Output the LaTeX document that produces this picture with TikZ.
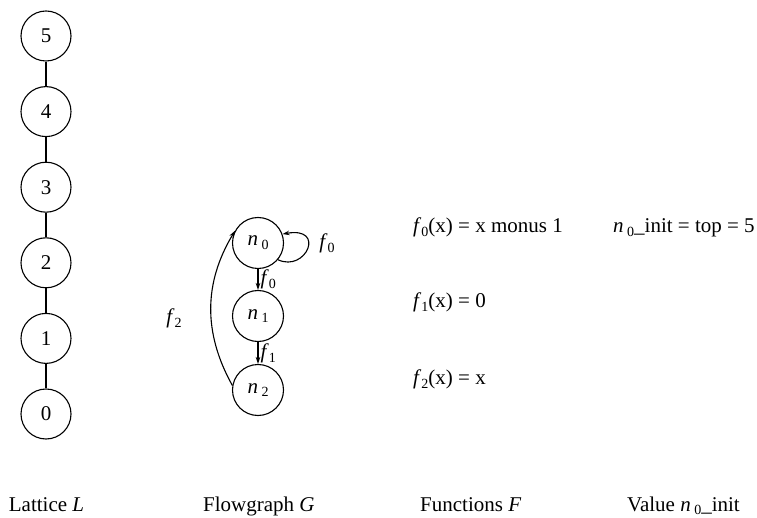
\documentclass[tikz,border=0pt]{standalone}
\usepackage{fontspec}
\setmainfont{Liberation Serif}
\usetikzlibrary{arrows.meta}
\newcommand\sbs[1]{\raisebox{-0.4ex}{\fontsize{14}{14}\selectfont #1}}
\newcommand\fx[1]{\textit{f}\sbs{#1}}
\newcommand\nx[1]{\textit{n}\,\sbs{#1}}
\begin{document}
\begin{tikzpicture}[x=1pt,y=1pt,
  every node/.style={font=\fontsize{21}{25}\selectfont},
  latnode/.style={draw,circle,line width=1.1pt,minimum size=50pt,inner sep=0pt},
  flownode/.style={draw,circle,line width=1.1pt,minimum size=51pt,inner sep=0pt},
  latedge/.style={line width=1.1pt},
  arr/.style={line width=1.1pt,-{Stealth[length=7pt,width=4.5pt]}},
  lbl/.style={inner sep=1pt},
  txt/.style={anchor=base west,inner sep=0pt}]
\useasboundingbox (0,0) rectangle (757,517);
% lattice
\node[latnode] (l5) at (46,481) {5};
\node[latnode] (l4) at (46,405.4) {4};
\node[latnode] (l3) at (46,329.8) {3};
\node[latnode] (l2) at (46,254.2) {2};
\node[latnode] (l1) at (46,178.6) {1};
\node[latnode] (l0) at (46,103) {0};
\draw[latedge] (l5) -- (l4);
\draw[latedge] (l4) -- (l3);
\draw[latedge] (l3) -- (l2);
\draw[latedge] (l2) -- (l1);
\draw[latedge] (l1) -- (l0);
% flowgraph
\node[flownode] (n0) at (258,274) {\nx{0}};
\node[flownode] (n1) at (258,201) {\nx{1}};
\node[flownode] (n2) at (258,127) {\nx{2}};
\draw[arr] (n0) -- node[lbl,right,xshift=1pt]{\fx{0}} (n1);
\draw[arr] (n1) -- node[lbl,right,xshift=1pt]{\fx{1}} (n2);
\draw[arr] (n0.-40) .. controls +(28,-13) and +(44,8) .. (n0.20);
\node[lbl] (lf0) at (327,274) {\fx{0}};
\draw[arr] (n2.170) to[bend left=30] (n0.152);
\node[lbl] (lf2) at (174,199) {\fx{2}};
% functions
\node[txt] (t0) at (413,284) {\fx{0}(x) = x monus 1};
\node[txt] (t1) at (413,209) {\fx{1}(x) = 0};
\node[txt] (t2) at (413,132.5) {\fx{2}(x) = x};
\node[txt] (tinit) at (613,284) {\nx{0}\_init = top = 5};
% captions
\node[txt] (c1) at (8.7,6) {Lattice \textit{L}};
\node[txt] (c2) at (203,6) {Flowgraph \textit{G}};
\node[txt] (c3) at (420,6) {Functions \textit{F}};
\node[txt] (c4) at (627,6) {Value \nx{0}\_init};
\end{tikzpicture}
\end{document}
